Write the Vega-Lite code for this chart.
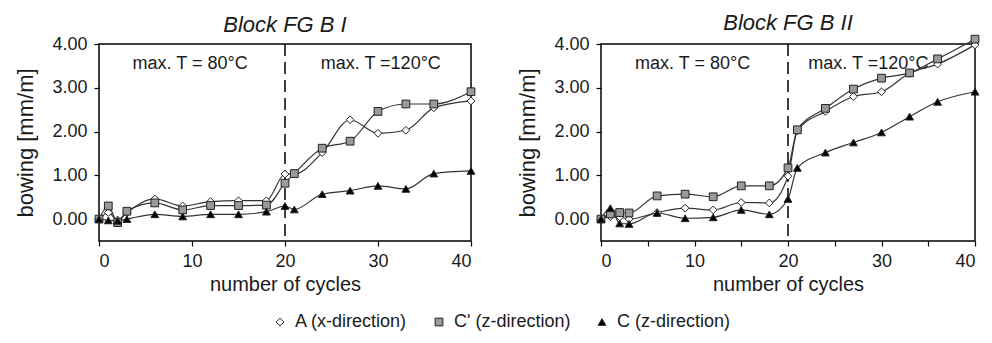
{
  "$schema": "https://vega.github.io/schema/vega-lite/v6.json",
  "padding": {"left": 14, "top": 11, "right": 5, "bottom": 5},
  "spacing": 38,
  "background": "white",
  "config": {
    "font": "Liberation Sans",
    "view": {"stroke": "black", "strokeWidth": 1.5},
    "axis": {"grid": false, "domain": false, "labelFontSize": 18, "labelColor": "#1a1a1a", "titleFontSize": 20, "titleFontWeight": "normal", "titleColor": "#1a1a1a", "tickColor": "black", "tickWidth": 1.2},
    "axisY": {"titleFontSize": 22},
    "title": {"fontSize": 22, "fontStyle": "italic", "fontWeight": "normal", "color": "#1a1a1a", "offset": -2}
  },
  "datasets": {
    "d": [
      {"block": "I", "series": "A (x-direction)", "cycle": 0, "bowing": 0},
      {"block": "I", "series": "A (x-direction)", "cycle": 1, "bowing": 0.15},
      {"block": "I", "series": "A (x-direction)", "cycle": 2, "bowing": -0.02},
      {"block": "I", "series": "A (x-direction)", "cycle": 3, "bowing": 0.15},
      {"block": "I", "series": "A (x-direction)", "cycle": 6, "bowing": 0.46},
      {"block": "I", "series": "A (x-direction)", "cycle": 9, "bowing": 0.30},
      {"block": "I", "series": "A (x-direction)", "cycle": 12, "bowing": 0.40},
      {"block": "I", "series": "A (x-direction)", "cycle": 15, "bowing": 0.42},
      {"block": "I", "series": "A (x-direction)", "cycle": 18, "bowing": 0.42},
      {"block": "I", "series": "A (x-direction)", "cycle": 20, "bowing": 1.03},
      {"block": "I", "series": "A (x-direction)", "cycle": 21, "bowing": 1.03},
      {"block": "I", "series": "A (x-direction)", "cycle": 24, "bowing": 1.52},
      {"block": "I", "series": "A (x-direction)", "cycle": 27, "bowing": 2.27},
      {"block": "I", "series": "A (x-direction)", "cycle": 30, "bowing": 1.96},
      {"block": "I", "series": "A (x-direction)", "cycle": 33, "bowing": 2.03},
      {"block": "I", "series": "A (x-direction)", "cycle": 36, "bowing": 2.54},
      {"block": "I", "series": "A (x-direction)", "cycle": 40, "bowing": 2.70},
      {"block": "I", "series": "C' (z-direction)", "cycle": 0, "bowing": 0},
      {"block": "I", "series": "C' (z-direction)", "cycle": 1, "bowing": 0.30},
      {"block": "I", "series": "C' (z-direction)", "cycle": 2, "bowing": -0.08},
      {"block": "I", "series": "C' (z-direction)", "cycle": 3, "bowing": 0.18},
      {"block": "I", "series": "C' (z-direction)", "cycle": 6, "bowing": 0.37},
      {"block": "I", "series": "C' (z-direction)", "cycle": 9, "bowing": 0.21},
      {"block": "I", "series": "C' (z-direction)", "cycle": 12, "bowing": 0.31},
      {"block": "I", "series": "C' (z-direction)", "cycle": 15, "bowing": 0.31},
      {"block": "I", "series": "C' (z-direction)", "cycle": 18, "bowing": 0.32},
      {"block": "I", "series": "C' (z-direction)", "cycle": 20, "bowing": 0.82},
      {"block": "I", "series": "C' (z-direction)", "cycle": 21, "bowing": 1.04},
      {"block": "I", "series": "C' (z-direction)", "cycle": 24, "bowing": 1.62},
      {"block": "I", "series": "C' (z-direction)", "cycle": 27, "bowing": 1.78},
      {"block": "I", "series": "C' (z-direction)", "cycle": 30, "bowing": 2.46},
      {"block": "I", "series": "C' (z-direction)", "cycle": 33, "bowing": 2.63},
      {"block": "I", "series": "C' (z-direction)", "cycle": 36, "bowing": 2.63},
      {"block": "I", "series": "C' (z-direction)", "cycle": 40, "bowing": 2.91},
      {"block": "I", "series": "C (z-direction)", "cycle": 0, "bowing": 0},
      {"block": "I", "series": "C (z-direction)", "cycle": 1, "bowing": -0.03},
      {"block": "I", "series": "C (z-direction)", "cycle": 2, "bowing": -0.04},
      {"block": "I", "series": "C (z-direction)", "cycle": 3, "bowing": 0.0},
      {"block": "I", "series": "C (z-direction)", "cycle": 6, "bowing": 0.11},
      {"block": "I", "series": "C (z-direction)", "cycle": 9, "bowing": 0.06},
      {"block": "I", "series": "C (z-direction)", "cycle": 12, "bowing": 0.11},
      {"block": "I", "series": "C (z-direction)", "cycle": 15, "bowing": 0.11},
      {"block": "I", "series": "C (z-direction)", "cycle": 18, "bowing": 0.17},
      {"block": "I", "series": "C (z-direction)", "cycle": 20, "bowing": 0.30},
      {"block": "I", "series": "C (z-direction)", "cycle": 21, "bowing": 0.22},
      {"block": "I", "series": "C (z-direction)", "cycle": 24, "bowing": 0.57},
      {"block": "I", "series": "C (z-direction)", "cycle": 27, "bowing": 0.65},
      {"block": "I", "series": "C (z-direction)", "cycle": 30, "bowing": 0.76},
      {"block": "I", "series": "C (z-direction)", "cycle": 33, "bowing": 0.69},
      {"block": "I", "series": "C (z-direction)", "cycle": 36, "bowing": 1.04},
      {"block": "I", "series": "C (z-direction)", "cycle": 40, "bowing": 1.10},
      {"block": "II", "series": "A (x-direction)", "cycle": 0, "bowing": 0},
      {"block": "II", "series": "A (x-direction)", "cycle": 1, "bowing": 0.06},
      {"block": "II", "series": "A (x-direction)", "cycle": 2, "bowing": 0.05},
      {"block": "II", "series": "A (x-direction)", "cycle": 3, "bowing": 0.0},
      {"block": "II", "series": "A (x-direction)", "cycle": 6, "bowing": 0.15},
      {"block": "II", "series": "A (x-direction)", "cycle": 9, "bowing": 0.25},
      {"block": "II", "series": "A (x-direction)", "cycle": 12, "bowing": 0.21},
      {"block": "II", "series": "A (x-direction)", "cycle": 15, "bowing": 0.38},
      {"block": "II", "series": "A (x-direction)", "cycle": 18, "bowing": 0.37},
      {"block": "II", "series": "A (x-direction)", "cycle": 20, "bowing": 0.98},
      {"block": "II", "series": "A (x-direction)", "cycle": 21, "bowing": 2.02},
      {"block": "II", "series": "A (x-direction)", "cycle": 24, "bowing": 2.46},
      {"block": "II", "series": "A (x-direction)", "cycle": 27, "bowing": 2.80},
      {"block": "II", "series": "A (x-direction)", "cycle": 30, "bowing": 2.91},
      {"block": "II", "series": "A (x-direction)", "cycle": 33, "bowing": 3.33},
      {"block": "II", "series": "A (x-direction)", "cycle": 36, "bowing": 3.54},
      {"block": "II", "series": "A (x-direction)", "cycle": 40, "bowing": 3.98},
      {"block": "II", "series": "C' (z-direction)", "cycle": 0, "bowing": 0},
      {"block": "II", "series": "C' (z-direction)", "cycle": 1, "bowing": 0.12},
      {"block": "II", "series": "C' (z-direction)", "cycle": 2, "bowing": 0.15},
      {"block": "II", "series": "C' (z-direction)", "cycle": 3, "bowing": 0.14},
      {"block": "II", "series": "C' (z-direction)", "cycle": 6, "bowing": 0.53},
      {"block": "II", "series": "C' (z-direction)", "cycle": 9, "bowing": 0.57},
      {"block": "II", "series": "C' (z-direction)", "cycle": 12, "bowing": 0.51},
      {"block": "II", "series": "C' (z-direction)", "cycle": 15, "bowing": 0.76},
      {"block": "II", "series": "C' (z-direction)", "cycle": 18, "bowing": 0.76},
      {"block": "II", "series": "C' (z-direction)", "cycle": 20, "bowing": 1.17},
      {"block": "II", "series": "C' (z-direction)", "cycle": 21, "bowing": 2.04},
      {"block": "II", "series": "C' (z-direction)", "cycle": 24, "bowing": 2.53},
      {"block": "II", "series": "C' (z-direction)", "cycle": 27, "bowing": 2.97},
      {"block": "II", "series": "C' (z-direction)", "cycle": 30, "bowing": 3.22},
      {"block": "II", "series": "C' (z-direction)", "cycle": 33, "bowing": 3.34},
      {"block": "II", "series": "C' (z-direction)", "cycle": 36, "bowing": 3.66},
      {"block": "II", "series": "C' (z-direction)", "cycle": 40, "bowing": 4.11},
      {"block": "II", "series": "C (z-direction)", "cycle": 0, "bowing": 0},
      {"block": "II", "series": "C (z-direction)", "cycle": 1, "bowing": 0.25},
      {"block": "II", "series": "C (z-direction)", "cycle": 2, "bowing": -0.10},
      {"block": "II", "series": "C (z-direction)", "cycle": 3, "bowing": -0.11},
      {"block": "II", "series": "C (z-direction)", "cycle": 6, "bowing": 0.14},
      {"block": "II", "series": "C (z-direction)", "cycle": 9, "bowing": 0.02},
      {"block": "II", "series": "C (z-direction)", "cycle": 12, "bowing": 0.04},
      {"block": "II", "series": "C (z-direction)", "cycle": 15, "bowing": 0.21},
      {"block": "II", "series": "C (z-direction)", "cycle": 18, "bowing": 0.11},
      {"block": "II", "series": "C (z-direction)", "cycle": 20, "bowing": 0.46},
      {"block": "II", "series": "C (z-direction)", "cycle": 21, "bowing": 1.17},
      {"block": "II", "series": "C (z-direction)", "cycle": 24, "bowing": 1.52},
      {"block": "II", "series": "C (z-direction)", "cycle": 27, "bowing": 1.75},
      {"block": "II", "series": "C (z-direction)", "cycle": 30, "bowing": 1.98},
      {"block": "II", "series": "C (z-direction)", "cycle": 33, "bowing": 2.34},
      {"block": "II", "series": "C (z-direction)", "cycle": 36, "bowing": 2.68},
      {"block": "II", "series": "C (z-direction)", "cycle": 40, "bowing": 2.91}
    ]
  },
  "resolve": {"scale": {"shape": "shared", "fill": "shared"}, "legend": {"shape": "shared", "fill": "shared"}},
  "hconcat": [
    {
      "width": 372,
      "height": 197,
      "title": "Block FG B I",
      "layer": [
        {
          "data": {"values": [{}]},
          "mark": {"type": "rule", "strokeDash": [12, 6], "strokeWidth": 1.5, "color": "black"},
          "encoding": {"x": {"datum": 20, "type": "quantitative", "scale": {"domain": [0, 40], "nice": false}}}
        },
        {
          "data": {"values": [{}]},
          "mark": {"type": "text", "fontSize": 18, "color": "#1a1a1a", "baseline": "middle"},
          "encoding": {"x": {"datum": 9.8, "type": "quantitative"}, "y": {"datum": 3.54, "type": "quantitative"}, "text": {"value": "max. T = 80°C"}}
        },
        {
          "data": {"values": [{}]},
          "mark": {"type": "text", "fontSize": 18, "color": "#1a1a1a", "baseline": "middle"},
          "encoding": {"x": {"datum": 30.3, "type": "quantitative"}, "y": {"datum": 3.54, "type": "quantitative"}, "text": {"value": "max. T =120°C"}}
        },
        {
          "data": {"name": "d"},
          "transform": [{"filter": "datum.block === 'I'"}],
          "mark": {"type": "line", "interpolate": "monotone", "color": "#333", "strokeWidth": 1.2},
          "encoding": {
            "x": {"field": "cycle", "type": "quantitative", "scale": {"domain": [0, 40], "nice": false}, "axis": {"values": [0, 10, 20, 30, 40], "title": "number of cycles", "tickSize": 5, "labelPadding": 6, "titlePadding": 4}},
            "y": {"field": "bowing", "type": "quantitative", "scale": {"domain": [-0.5, 4], "nice": false, "zero": false}, "axis": {"values": [0, 1, 2, 3, 4], "format": ".2f", "title": "bowing [mm/m]", "tickSize": 5, "labelPadding": 7, "titlePadding": 14}},
            "detail": {"field": "series"}
          }
        },
        {
          "data": {"name": "d"},
          "transform": [{"filter": "datum.block === 'I'"}],
          "mark": {"type": "point", "filled": true, "stroke": "#222", "strokeWidth": 1, "size": 60, "opacity": 1},
          "encoding": {
            "x": {"field": "cycle", "type": "quantitative"},
            "y": {"field": "bowing", "type": "quantitative"},
            "shape": {"field": "series", "type": "nominal", "title": null, "scale": {"domain": ["A (x-direction)", "C' (z-direction)", "C (z-direction)"], "range": ["diamond", "square", "triangle-up"]}},
            "fill": {"field": "series", "type": "nominal", "title": null, "scale": {"domain": ["A (x-direction)", "C' (z-direction)", "C (z-direction)"], "range": ["white", "#9a9a9a", "black"]}}
          }
        }
      ]
    },
    {
      "width": 374,
      "height": 197,
      "title": "Block FG B II",
      "layer": [
        {
          "data": {"values": [{}]},
          "mark": {"type": "rule", "strokeDash": [12, 6], "strokeWidth": 1.5, "color": "black"},
          "encoding": {"x": {"datum": 20, "type": "quantitative", "scale": {"domain": [0, 40], "nice": false}}}
        },
        {
          "data": {"values": [{}]},
          "mark": {"type": "text", "fontSize": 18, "color": "#1a1a1a", "baseline": "middle"},
          "encoding": {"x": {"datum": 9.8, "type": "quantitative"}, "y": {"datum": 3.54, "type": "quantitative"}, "text": {"value": "max. T = 80°C"}}
        },
        {
          "data": {"values": [{}]},
          "mark": {"type": "text", "fontSize": 18, "color": "#1a1a1a", "baseline": "middle"},
          "encoding": {"x": {"datum": 28.6, "type": "quantitative"}, "y": {"datum": 3.54, "type": "quantitative"}, "text": {"value": "max. T =120°C"}}
        },
        {
          "data": {"name": "d"},
          "transform": [{"filter": "datum.block === 'II'"}],
          "mark": {"type": "line", "interpolate": "monotone", "color": "#333", "strokeWidth": 1.2},
          "encoding": {
            "x": {"field": "cycle", "type": "quantitative", "scale": {"domain": [0, 40], "nice": false}, "axis": {"values": [0, 5, 10, 15, 20, 25, 30, 35, 40], "labelExpr": "datum.value % 10 === 0 ? datum.label : ''", "title": "number of cycles", "tickSize": 5, "labelPadding": 6, "titlePadding": 4}},
            "y": {"field": "bowing", "type": "quantitative", "scale": {"domain": [-0.5, 4], "nice": false, "zero": false}, "axis": {"values": [0, 1, 2, 3, 4], "format": ".2f", "title": "bowing [mm/m]", "tickSize": 5, "labelPadding": 7, "titlePadding": 14}},
            "detail": {"field": "series"}
          }
        },
        {
          "data": {"name": "d"},
          "transform": [{"filter": "datum.block === 'II'"}],
          "mark": {"type": "point", "filled": true, "stroke": "#222", "strokeWidth": 1, "size": 60, "opacity": 1},
          "encoding": {
            "x": {"field": "cycle", "type": "quantitative"},
            "y": {"field": "bowing", "type": "quantitative"},
            "shape": {"field": "series", "type": "nominal", "title": null, "legend": {"orient": "none", "legendX": 172, "legendY": 269, "direction": "horizontal", "labelFontSize": 18, "labelColor": "#1a1a1a", "symbolSize": 60, "symbolStrokeColor": "#222", "symbolStrokeWidth": 1, "columnPadding": 22, "labelOffset": 6}},
            "fill": {"field": "series", "type": "nominal", "title": null}
          }
        }
      ]
    }
  ]
}
